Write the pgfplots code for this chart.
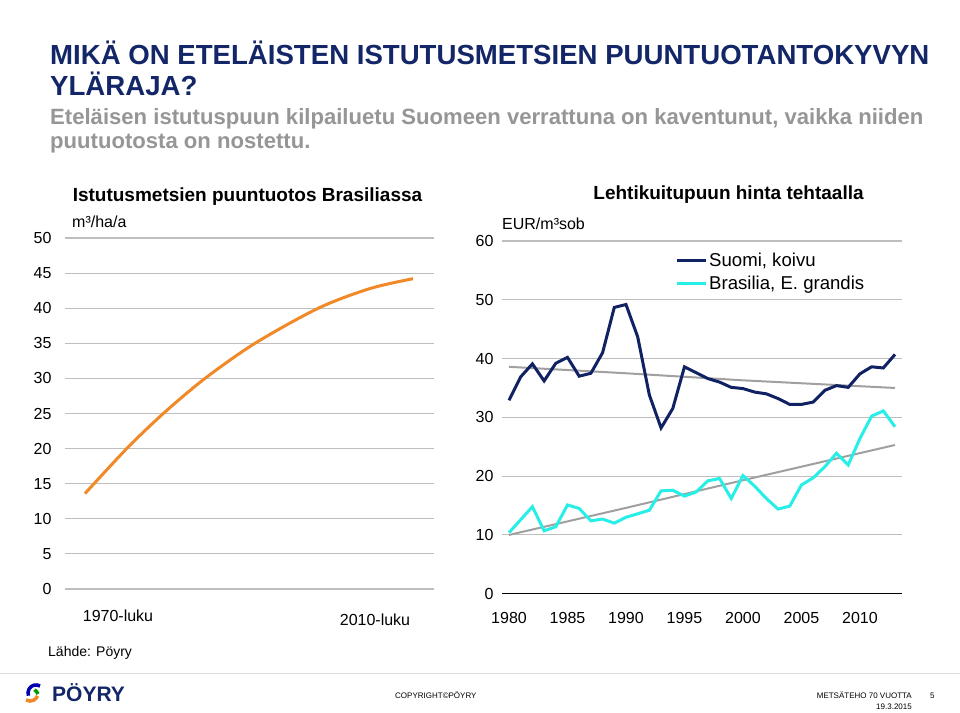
\documentclass[border=0pt]{standalone}
\usepackage{fontspec}
\setmainfont{Liberation Sans}
\usepackage{pgfplots}
\usepackage{pgfplotstable}
\pgfplotsset{compat=1.18}
\definecolor{navy}{RGB}{16,34,100}
\definecolor{titlenavy}{RGB}{18,38,104}
\definecolor{subgray}{RGB}{150,150,150}
\definecolor{gridgray}{RGB}{190,190,190}
\definecolor{trendgray}{RGB}{160,160,160}
\definecolor{orange}{RGB}{240,137,40}
\definecolor{cyanl}{RGB}{40,238,232}

\pgfplotstableread{
x y
85 13.6
126.7 20
163.3 25
205 30
255 35
318.3 40
370 42.8
413 44.2
}\kasvu

\pgfplotstableread{
year v
1980 32.9
1981 36.9
1982 39.1
1983 36.2
1984 39.2
1985 40.2
1986 37.0
1987 37.5
1988 41.0
1989 48.7
1990 49.2
1991 43.7
1992 33.8
1993 28.2
1994 31.5
1995 38.6
1996 37.6
1997 36.6
1998 36.0
1999 35.1
2000 34.9
2001 34.3
2002 34.0
2003 33.2
2004 32.2
2005 32.2
2006 32.6
2007 34.6
2008 35.4
2009 35.1
2010 37.4
2011 38.6
2012 38.4
2013 40.7
}\suomi

\pgfplotstableread{
year v
1980 10.4
1981 12.6
1982 14.8
1983 10.7
1984 11.4
1985 15.1
1986 14.5
1987 12.4
1988 12.7
1989 12.0
1990 13.0
1991 13.6
1992 14.2
1993 17.5
1994 17.6
1995 16.6
1996 17.3
1997 19.2
1998 19.6
1999 16.2
2000 20.1
2001 18.3
2002 16.2
2003 14.4
2004 14.9
2005 18.5
2006 19.7
2007 21.6
2008 23.9
2009 21.9
2010 26.4
2011 30.2
2012 31.1
2013 28.4
}\brasilia

\pgfplotstableread{
year v
1980 38.6
1990 37.5
2000 36.3
2013 35.0
}\suomitrend

\pgfplotstableread{
year v
1980 10.0
1990 14.6
2000 19.3
2013 25.3
}\brasiliatrend

\pgfplotsset{slide/.style={
  scale only axis,
  axis line style={draw=none},
  major tick length=0pt,
  ymajorgrids,
  grid style={gridgray, line width=1.1pt},
  tick label style={font=\fontsize{16}{16}\selectfont},
  /pgf/number format/assume math mode=true,
  clip=false,
}}

\begin{document}
\begin{tikzpicture}
\path[use as bounding box, fill=white] (0,0) rectangle (960pt,-712pt);

% titles
\node[anchor=base west, inner sep=0pt, text=titlenavy, font=\fontsize{27.6}{27.6}\selectfont\bfseries] at (50pt,-64pt) {MIKÄ ON ETELÄISTEN ISTUTUSMETSIEN PUUNTUOTANTOKYVYN};
\node[anchor=base west, inner sep=0pt, text=titlenavy, font=\fontsize{27.6}{27.6}\selectfont\bfseries] at (50pt,-95pt) {YLÄRAJA?};
\node[anchor=base west, inner sep=0pt, text=subgray, font=\fontsize{22.1}{22.1}\selectfont\bfseries] at (50pt,-124pt) {Eteläisen istutuspuun kilpailuetu Suomeen verrattuna on kaventunut, vaikka niiden};
\node[anchor=base west, inner sep=0pt, text=subgray, font=\fontsize{22.1}{22.1}\selectfont\bfseries] at (50pt,-148pt) {puutuotosta on nostettu.};

% chart titles
\node[anchor=base, inner sep=0pt, font=\fontsize{19}{19}\selectfont\bfseries] at (247.5pt,-201pt) {Istutusmetsien puuntuotos Brasiliassa};
\node[anchor=base, inner sep=0pt, font=\fontsize{19}{19}\selectfont\bfseries] at (728.5pt,-199pt) {Lehtikuitupuun hinta tehtaalla};
\node[anchor=base west, inner sep=0pt, font=\fontsize{16}{16}\selectfont] at (72pt,-227pt) {m³/ha/a};
\node[anchor=base west, inner sep=0pt, font=\fontsize{16}{16}\selectfont] at (502pt,-229pt) {EUR/m³sob};
\node[anchor=base west, inner sep=0pt, font=\fontsize{14}{14}\selectfont] at (48pt,-656pt) {Lähde: Pöyry};

% left chart
\begin{axis}[slide,
  at={(65pt,-589pt)}, anchor=south west,
  width=369pt, height=351pt,
  xmin=65, xmax=434, ymin=0, ymax=50,
  ytick={0,5,...,50},
  xtick={118}, xticklabels={1970-luku},
  extra x ticks={375}, extra x tick labels={2010-luku},
  extra x tick style={xticklabel style={yshift=-4pt}},
  xticklabel style={yshift=-17pt},
  yticklabel style={xshift=-10pt},
]
\addplot[orange, line width=3pt, smooth] table[x=x,y=y] {\kasvu};
\end{axis}

% right chart
\begin{axis}[slide,
  at={(502pt,-593.7pt)}, anchor=south west,
  width=400pt, height=352.7pt,
  xmin=1979.4, xmax=2013.6, ymin=0, ymax=60,
  ytick={10,20,...,60},
  extra y ticks={0},
  extra y tick style={grid style={black, line width=1.1pt}},
  xtick={1980,1985,...,2010},
  xticklabel style={/pgf/number format/1000 sep={}, yshift=-15.5pt},
  yticklabel style={xshift=-5pt},
  legend style={at={(0.425,0.978)}, anchor=north west, draw=none, fill=none,
    font=\fontsize{18.6}{18.6}\selectfont, row sep=4pt},
  legend cell align=left,
  legend image code/.code={\draw[#1] (0pt,0pt) -- (29pt,0pt);},
]
\addplot[trendgray, line width=2pt, forget plot] table[x=year,y=v] {\suomitrend};
\addplot[trendgray, line width=2pt, forget plot] table[x=year,y=v] {\brasiliatrend};
\addplot[navy, line width=3pt] table[x=year,y=v] {\suomi};
\addplot[cyanl, line width=3pt] table[x=year,y=v] {\brasilia};
\legend{{Suomi, koivu}, {Brasilia, E. grandis}}
\end{axis}

% footer
\draw[gray!25, line width=0.8pt] (0pt,-673pt) -- (960pt,-673pt);
\draw[blue!70!black, line width=3.5pt] (40pt,-686pt) arc (60:200:8pt);
\draw[orange, line width=3.5pt] (26pt,-700pt) arc (240:340:8pt);
\draw[green!60!black, line width=3.5pt] (38pt,-694pt) arc (20:60:8pt);
\node[anchor=base west, inner sep=0pt, text=titlenavy, font=\fontsize{21}{21}\selectfont\bfseries] at (52pt,-701pt) {PÖYRY};
\node[anchor=base west, inner sep=0pt, font=\fontsize{8}{8}\selectfont] at (395pt,-698pt) {COPYRIGHT©PÖYRY};
\node[anchor=base east, inner sep=0pt, font=\fontsize{8}{8}\selectfont] at (912pt,-698pt) {METSÄTEHO 70 VUOTTA};
\node[anchor=base west, inner sep=0pt, font=\fontsize{8}{8}\selectfont] at (930pt,-698pt) {5};
\node[anchor=base east, inner sep=0pt, font=\fontsize{8}{8}\selectfont] at (912pt,-709pt) {19.3.2015};
\end{tikzpicture}
\end{document}
